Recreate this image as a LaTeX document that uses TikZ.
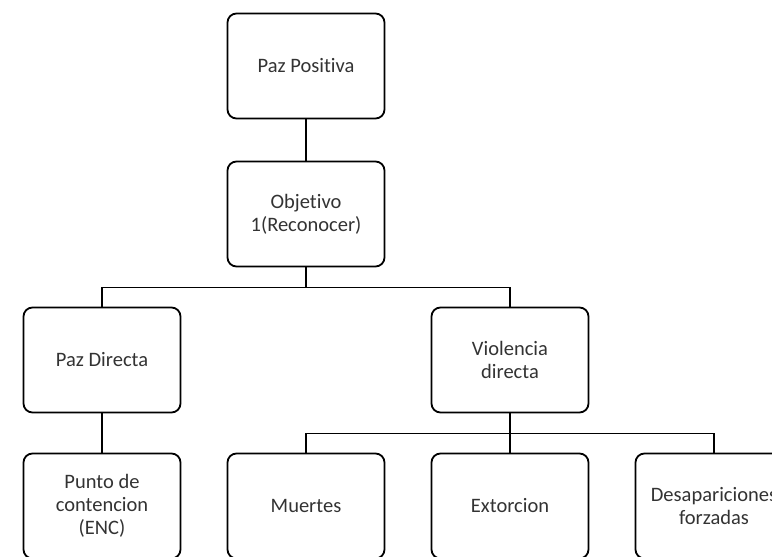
\documentclass[tikz,border=0pt]{standalone}
\usepackage{fontspec}
\setmainfont{Carlito}[Ligatures=NoCommon]
\begin{document}
\begin{tikzpicture}[
  x=1pt, y=-1pt,
  box/.style={draw, line width=1.8pt, rounded corners=9pt, fill=white, align=center,
    minimum width=157pt, minimum height=105pt, inner sep=2pt, text=black!80,
    font=\fontsize{20.5}{23}\selectfont},
  link/.style={line width=1.5pt}
]
\useasboundingbox (0,0) rectangle (772,557);
\clip (0,0) rectangle (772,557);
\node[box] (pp) at (306,66) {Paz Positiva};
\node[box] (obj) at (306,214) {Objetivo\\1(Reconocer)};
\node[box] (pd) at (102,360) {Paz Directa};
\node[box] (vd) at (510,360) {Violencia\\directa};
\node[box] (pc) at (102,506) {Punto de\\contencion\\(ENC)};
\node[box] (mu) at (306,506) {Muertes};
\node[box] (ex) at (510,506) {Extorcion};
\node[box] (df) at (714,506) {Desapariciones\\forzadas};
\draw[link] (pp) -- (obj);
\draw[link] (obj.south) -- ++(0,20) -| (pd.north);
\draw[link] (obj.south) -- ++(0,20) -| (vd.north);
\draw[link] (pd) -- (pc);
\draw[link] (vd.south) -- ++(0,20) -| (mu.north);
\draw[link] (vd) -- (ex);
\draw[link] (vd.south) -- ++(0,20) -| (df.north);
\end{tikzpicture}
\end{document}
